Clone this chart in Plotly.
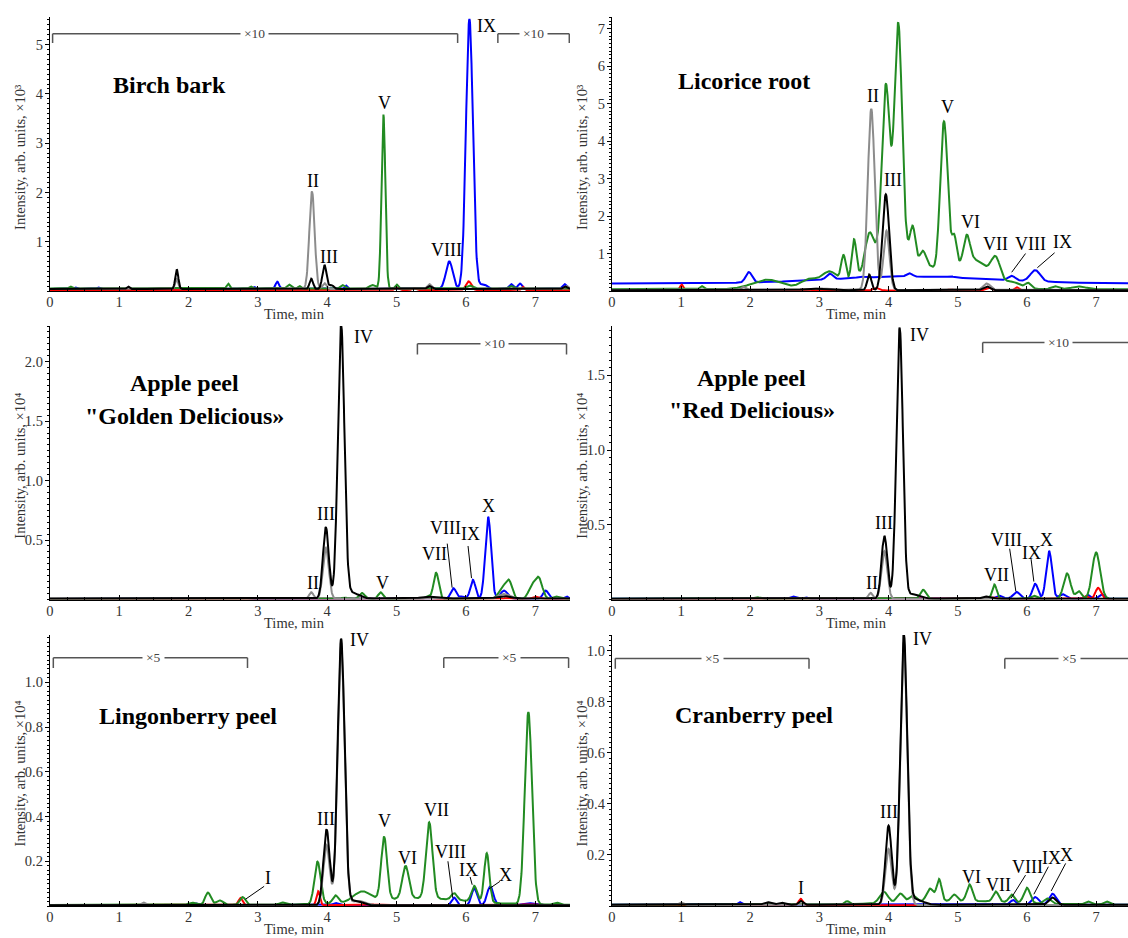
import numpy as np
import plotly.graph_objects as go

# ---------------- data: peak tables (retention time [min], height, sigma [min]) ----------------
# Birch bark (x10^3)
BIRCH_BASE = {"black": 0.04, "gray": 0.04, "green": 0.05, "blue": 0.04, "red": 0.015}
BIRCH_BLACK = [(1.13, 0.05, 0.02), (1.83, 0.40, 0.022), (3.77, 0.21, 0.025), (3.96, 0.49, 0.03),
               (4.06, 0.08, 0.03), (5.47, 0.06, 0.03), (7.43, 0.05, 0.03)]
BIRCH_GRAY = [(1.83, 0.2, 0.022), (3.78, 1.98, 0.038), (3.96, 0.12, 0.03), (5.47, 0.10, 0.03), (7.45, 0.06, 0.03)]
BIRCH_GREEN = [(0.3, 0.04, 0.02), (2.57, 0.10, 0.02), (2.9, 0.04, 0.02), (3.45, 0.08, 0.03), (3.6, 0.05, 0.02),
               (4.22, 0.07, 0.03), (4.65, 0.07, 0.04), (4.81, 3.53, 0.028), (5.0, 0.08, 0.02), (6.05, 0.06, 0.04),
               (6.65, 0.05, 0.03)]
BIRCH_BLUE = [(0.37, 0.03, 0.02), (0.7, 0.03, 0.02), (2.95, 0.04, 0.02), (3.28, 0.15, 0.025), (4.27, 0.07, 0.02),
              (5.76, 0.56, 0.05), (6.05, 5.48, 0.05), (6.25, 0.10, 0.05), (6.65, 0.10, 0.03), (6.78, 0.11, 0.03),
              (7.42, 0.10, 0.03)]
BIRCH_RED = [(5.0, 0.05, 0.03), (5.25, 0.04, 0.03), (6.04, 0.18, 0.04), (6.82, 0.07, 0.02)]

# Licorice root (x10^3)
LIC_BASE = {"black": 0.02, "gray": 0.03, "green": 0.05, "blue": 0.2, "red": 0.01}
LIC_BLACK = [(2.9, 0.04, 0.15), (3.72, 0.42, 0.03), (3.96, 2.56, 0.048), (5.42, 0.10, 0.05)]
LIC_GRAY = [(1.9, 0.08, 0.03), (3.0, 0.04, 0.1), (3.75, 4.83, 0.05), (3.97, 1.58, 0.042), (5.42, 0.17, 0.05)]
LIC_GREEN = [(1.3, 0.08, 0.025), (2.25, 0.25, 0.22), (2.85, 0.25, 0.12), (3.15, 0.45, 0.12), (3.35, 0.72, 0.035),
             (3.5, 1.1, 0.035), (3.72, 0.85, 0.06), (4.05, 1.2, 0.3), (3.96, 4.3, 0.055), (4.14, 5.95, 0.055),
             (4.35, 0.95, 0.04), (4.5, 0.6, 0.05), (4.62, 0.3, 0.05), (4.8, 4.2, 0.056), (4.95, 0.85, 0.035),
             (5.2, 0.8, 0.25), (5.13, 0.68, 0.045), (5.55, 0.57, 0.065), (5.8, 0.15, 0.1), (6.02, 0.15, 0.045),
             (6.4, 0.08, 0.05), (6.75, 0.07, 0.1)]
LIC_BLUE = [(4.3, 0.18, 1.2), (1.98, 0.28, 0.045), (3.15, 0.15, 0.045), (3.6, 0.03, 0.05), (4.3, 0.09, 0.045),
            (4.9, 0.03, 0.05), (5.78, 0.12, 0.05), (6.12, 0.30, 0.07)]
LIC_RED = [(1.01, 0.16, 0.025), (3.82, 0.07, 0.05), (4.9, 0.03, 0.05), (5.45, 0.08, 0.05), (5.85, 0.09, 0.03)]

# Apple peel "Golden Delicious" (x10^4)
GOLD_BASE = {"black": 0.008, "gray": 0.006, "green": 0.005, "blue": 0.005, "red": 0.003}
GOLD_BLACK = [(3.98, 0.60, 0.042), (4.2, 2.29, 0.047), (4.35, 0.05, 0.1), (5.45, 0.015, 0.1), (6.55, 0.02, 0.1)]
GOLD_GRAY = [(3.77, 0.055, 0.03), (3.98, 0.43, 0.042), (6.55, 0.04, 0.08)]
GOLD_GREEN = [(4.25, 0.01, 0.05), (4.5, 0.05, 0.04), (4.77, 0.055, 0.035), (5.45, 0.02, 0.04), (5.57, 0.22, 0.037),
              (6.52, 0.09, 0.05), (6.62, 0.15, 0.045), (6.95, 0.10, 0.05), (7.05, 0.17, 0.05), (7.3, 0.02, 0.05)]
GOLD_BLUE = [(2.8, 0.008, 0.05), (5.82, 0.09, 0.04), (5.95, 0.02, 0.04), (6.1, 0.16, 0.037), (6.32, 0.69, 0.042),
             (6.55, 0.07, 0.05), (7.15, 0.07, 0.04), (7.45, 0.02, 0.03)]
GOLD_RED = [(5.45, 0.01, 0.05), (6.6, 0.01, 0.05), (7.0, 0.02, 0.05)]

# Apple peel "Red Delicious" (x10^4)
RED_BASE = {"black": 0.005, "gray": 0.004, "green": 0.005, "blue": 0.005, "red": 0.003}
RED_BLACK = [(3.94, 0.42, 0.042), (4.16, 1.81, 0.047), (4.35, 0.03, 0.1), (5.4, 0.015, 0.05)]
RED_GRAY = [(3.74, 0.04, 0.03), (3.94, 0.32, 0.042)]
RED_GREEN = [(2.1, 0.01, 0.04), (4.5, 0.06, 0.04), (5.53, 0.095, 0.032), (6.1, 0.02, 0.04), (6.58, 0.17, 0.05),
             (6.75, 0.05, 0.04), (7.0, 0.31, 0.057)]
RED_BLUE = [(2.62, 0.015, 0.04), (2.8, 0.01, 0.03), (5.6, 0.02, 0.05), (5.85, 0.045, 0.05), (6.12, 0.10, 0.04),
            (6.32, 0.32, 0.042), (6.52, 0.03, 0.05), (6.88, 0.025, 0.03), (7.08, 0.03, 0.04)]
RED_RED = [(5.5, 0.01, 0.05), (6.85, 0.02, 0.03), (7.03, 0.075, 0.04)]

# Lingonberry peel (x10^4)
LING_BASE = {"black": 0.003, "gray": 0.003, "green": 0.005, "blue": 0.003, "red": 0.003}
LING_BLACK = [(3.99, 0.34, 0.045), (4.2, 1.19, 0.05), (4.4, 0.02, 0.1)]
LING_GRAY = [(1.35, 0.012, 0.03), (3.99, 0.27, 0.045), (4.2, 1.16, 0.05), (4.45, 0.02, 0.1)]
LING_GREEN = [(2.05, 0.01, 0.05), (2.28, 0.055, 0.04), (2.45, 0.02, 0.05), (2.78, 0.035, 0.04), (3.35, 0.01, 0.04),
              (3.86, 0.19, 0.045), (4.12, 0.035, 0.04), (4.5, 0.045, 0.12), (5.3, 0.03, 0.7), (4.82, 0.28, 0.042),
              (5.13, 0.145, 0.047), (5.47, 0.34, 0.047), (5.83, 0.03, 0.04), (6.12, 0.07, 0.04),
              (6.3, 0.22, 0.037), (6.9, 0.86, 0.052), (7.3, 0.01, 0.04)]
LING_BLUE = [(2.1, 0.008, 0.05), (4.12, 0.01, 0.04), (5.83, 0.035, 0.035), (6.12, 0.075, 0.04),
             (6.35, 0.085, 0.045), (6.9, 0.01, 0.08)]
LING_RED = [(2.75, 0.033, 0.03), (3.87, 0.063, 0.025), (4.5, 0.005, 0.2), (6.9, 0.005, 0.1)]

# Cranberry peel (x10^4)
CRAN_BASE = {"black": 0.005, "gray": 0.004, "green": 0.005, "blue": 0.005, "red": 0.003}
CRAN_BLACK = [(2.25, 0.01, 0.05), (2.45, 0.008, 0.05), (2.73, 0.015, 0.03), (4.0, 0.31, 0.045),
              (4.22, 1.06, 0.05), (4.4, 0.02, 0.1), (6.37, 0.028, 0.05)]
CRAN_GRAY = [(1.0, 0.01, 0.03), (4.0, 0.22, 0.045), (4.22, 1.03, 0.05)]
CRAN_GREEN = [(3.4, 0.012, 0.03), (3.93, 0.045, 0.06), (4.17, 0.035, 0.05), (4.35, 0.025, 0.05), (4.6, 0.05, 0.05),
              (4.73, 0.085, 0.035), (4.95, 0.025, 0.04), (5.0, 0.015, 0.8), (5.17, 0.065, 0.04), (5.55, 0.04, 0.04),
              (5.78, 0.03, 0.04), (6.0, 0.06, 0.045), (6.3, 0.02, 0.05), (6.88, 0.012, 0.04), (7.15, 0.012, 0.04)]
CRAN_BLUE = [(1.85, 0.01, 0.025), (5.8, 0.018, 0.04), (6.12, 0.03, 0.05), (6.37, 0.043, 0.05)]
CRAN_RED = [(2.73, 0.025, 0.03)]

# Peak labels (Roman numerals)
BIRCH_LABELS = ["II", "III", "V", "VIII", "IX"]
LIC_LABELS = ["II", "III", "V", "VI", "VII", "VIII", "IX"]
GOLD_LABELS = ["IV", "III", "II", "V", "VII", "VIII", "IX", "X"]
RED_LABELS = ["IV", "III", "II", "VII", "VIII", "IX", "X"]
LING_LABELS = ["IV", "III", "V", "VI", "VII", "VIII", "IX", "X", "I"]
CRAN_LABELS = ["IV", "III", "I", "VI", "VII", "VIII", "IX", "X"]

TIME = np.linspace(0, 7.5, 1501)
COLORS = {"red": "#ff0000", "blue": "#0000ff", "green": "#228b22", "gray": "#8c8c8c", "black": "#000000"}
SERIF = "Liberation Serif, Times New Roman, serif"
W, H = 1128, 938


def curve(base, peaks):
    y = np.full_like(TIME, base)
    for rt, h, s in peaks:
        y = y + h * np.exp(-0.5 * ((TIME - rt) / s) ** 2)
    return y


# ---------------- layout of panels ----------------
COLS = [(46, 568, 7.5), (610, 1128, (1128 - 610) / 69.43)]
ROWS = [(17, 291), (326, 599.5), (635, 906)]
TIME_LABEL_PX = [314, 623, 929]

panels = [
    dict(col=0, row=0, ymax=5.56, base=BIRCH_BASE,
         series=dict(black=BIRCH_BLACK, gray=BIRCH_GRAY, green=BIRCH_GREEN, blue=BIRCH_BLUE, red=BIRCH_RED),
         tickvals=[1, 2, 3, 4, 5], ticktext=["1", "2", "3", "4", "5"], minor=0.1, exp="³",
         title=[("Birch bark", 1.73, 4.19)],
         labels=BIRCH_LABELS, lpos=[(3.79, 2.23), (4.02, 0.68), (4.83, 3.82), (5.72, 0.84), (6.3, 5.37)],
         leaders=[],
         brackets=[(0.04, 5.88, 5.22, 5.03, 2.95, "×10"), (6.46, 7.49, 5.22, 5.03, 6.97, "×10")]),
    dict(col=1, row=0, ymax=7.31, base=LIC_BASE,
         series=dict(black=LIC_BLACK, gray=LIC_GRAY, green=LIC_GREEN, blue=LIC_BLUE, red=LIC_RED),
         tickvals=[1, 2, 3, 4, 5, 6, 7], ticktext=[str(i) for i in range(1, 8)], minor=0.1, exp="³",
         title=[("Licorice root", 1.91, 5.6)],
         labels=LIC_LABELS, lpos=[(3.77, 5.2), (4.07, 2.95), (4.85, 4.9), (5.18, 1.85), (5.55, 1.25),
                                  (6.05, 1.25), (6.52, 1.3)],
         leaders=[(5.98, 1.0, 5.78, 0.5), (6.4, 1.02, 6.15, 0.62)],
         brackets=[]),
    dict(col=0, row=1, ymax=2.30, base=GOLD_BASE,
         series=dict(black=GOLD_BLACK, gray=GOLD_GRAY, green=GOLD_GREEN, blue=GOLD_BLUE, red=GOLD_RED),
         tickvals=[0.5, 1.0, 1.5, 2.0], ticktext=["0.5", "1.0", "1.5", "2.0"], minor=0.05, exp="⁴",
         title=[("Apple peel", 1.94, 1.82), ('"Golden Delicious»', 1.94, 1.54)],
         labels=GOLD_LABELS, lpos=[(4.52, 2.21), (3.98, 0.72), (3.8, 0.14), (4.8, 0.14), (5.55, 0.38),
                                   (5.7, 0.6), (6.06, 0.55), (6.33, 0.79)],
         leaders=[(5.73, 0.47, 5.8, 0.1), (6.03, 0.45, 6.08, 0.18)],
         brackets=[(5.3, 7.45, 2.15, 2.06, 6.41, "×10")]),
    dict(col=1, row=1, ymax=1.83, base=RED_BASE,
         series=dict(black=RED_BLACK, gray=RED_GRAY, green=RED_GREEN, blue=RED_BLUE, red=RED_RED),
         tickvals=[0.5, 1.0, 1.5], ticktext=["0.5", "1.0", "1.5"], minor=0.05, exp="⁴",
         title=[("Apple peel", 2.02, 1.48), ('"Red Delicious»', 2.02, 1.27)],
         labels=RED_LABELS, lpos=[(4.44, 1.77), (3.93, 0.51), (3.76, 0.11), (5.56, 0.165), (5.71, 0.4),
                                  (6.06, 0.31), (6.28, 0.4)],
         leaders=[(5.75, 0.34, 5.84, 0.054), (6.06, 0.27, 6.1, 0.12)],
         brackets=[(5.36, 7.7, 1.72, 1.65, 6.45, "×10")]),
    dict(col=0, row=2, ymax=1.212, base=LING_BASE,
         series=dict(black=LING_BLACK, gray=LING_GRAY, green=LING_GREEN, blue=LING_BLUE, red=LING_RED),
         tickvals=[0.2, 0.4, 0.6, 0.8, 1.0], ticktext=["0.2", "0.4", "0.6", "0.8", "1.0"], minor=0.02, exp="⁴",
         title=[("Lingonberry peel", 1.99, 0.85)],
         labels=LING_LABELS, lpos=[(4.47, 1.19), (3.98, 0.39), (4.83, 0.38), (5.16, 0.215), (5.57, 0.43),
                                   (5.77, 0.24), (6.03, 0.16), (6.57, 0.14), (3.14, 0.125)],
         leaders=[(3.09, 0.088, 2.82, 0.03), (5.74, 0.2, 5.81, 0.036), (6.06, 0.13, 6.09, 0.095),
                  (6.49, 0.11, 6.33, 0.076)],
         brackets=[(0.05, 2.85, 1.11, 1.064, 1.49, "×5"), (5.68, 7.48, 1.11, 1.064, 6.63, "×5")]),
    dict(col=1, row=2, ymax=1.062, base=CRAN_BASE,
         series=dict(black=CRAN_BLACK, gray=CRAN_GRAY, green=CRAN_GREEN, blue=CRAN_BLUE, red=CRAN_RED),
         tickvals=[0.2, 0.4, 0.6, 0.8, 1.0], ticktext=["0.2", "0.4", "0.6", "0.8", "1.0"], minor=0.02, exp="⁴",
         title=[("Cranberry peel", 2.06, 0.75)],
         labels=CRAN_LABELS, lpos=[(4.49, 1.045), (4.0, 0.37), (2.74, 0.07), (5.2, 0.115), (5.59, 0.082),
                                   (6.01, 0.154), (6.36, 0.187), (6.57, 0.2)],
         leaders=[(5.98, 0.121, 5.77, 0.03), (6.31, 0.154, 6.1, 0.046), (6.56, 0.167, 6.35, 0.059)],
         brackets=[(0.05, 2.85, 0.97, 0.93, 1.46, "×5"), (5.68, 7.7, 0.97, 0.93, 6.61, "×5")]),
]

fig = go.Figure()
layout = dict(width=W, height=H, margin=dict(l=0, r=0, t=0, b=0), paper_bgcolor="white",
              plot_bgcolor="white", showlegend=False, font=dict(family=SERIF, color="#222"))
annotations = []
shapes = []

for i, p in enumerate(panels):
    n = i + 1
    xs = "x" if n == 1 else f"x{n}"
    ys = "y" if n == 1 else f"y{n}"
    xk = "xaxis" if n == 1 else f"xaxis{n}"
    yk = "yaxis" if n == 1 else f"yaxis{n}"
    c0, c1, xmax = COLS[p["col"]]
    r0, r1 = ROWS[p["row"]]
    layout[xk] = dict(domain=[c0 / W, c1 / W], range=[0, xmax], anchor=ys,
                      showline=True, linecolor="black", linewidth=1, showgrid=False, zeroline=False,
                      ticks="inside", ticklen=5, tickcolor="black", tickwidth=1,
                      tickvals=list(range(8)), ticktext=[str(k) for k in range(8)],
                      tickfont=dict(size=14.5, family=SERIF, color="#333"), ticklabelstandoff=-2,
                      minor=dict(ticks="inside", ticklen=3, tickcolor="black", dtick=0.25, tick0=0))
    layout[yk] = dict(domain=[1 - r1 / H, 1 - r0 / H], range=[0, p["ymax"]], anchor=xs,
                      showline=True, linecolor="black", linewidth=1, showgrid=False, zeroline=False,
                      ticks="outside", ticklen=4, tickcolor="black", tickwidth=1,
                      tickvals=p["tickvals"], ticktext=p["ticktext"],
                      tickfont=dict(size=14.5, family=SERIF, color="#333"), ticklabelstandoff=-1,
                      minor=dict(ticks="outside", ticklen=2, tickcolor="black", dtick=p["minor"], tick0=0))

    for key in ["blue", "red", "green", "gray", "black"]:
        fig.add_trace(go.Scatter(x=TIME, y=curve(p["base"][key], p["series"][key]), mode="lines",
                                 line=dict(color=COLORS[key], width=2), xaxis=xs, yaxis=ys,
                                 hoverinfo="skip"))

    for text, tx, ty in p["title"]:
        annotations.append(dict(x=tx, y=ty, xref=xs, yref=ys, text=f"<b>{text}</b>", showarrow=False,
                                font=dict(size=24, family=SERIF, color="black"),
                                xanchor="center", yanchor="middle"))
    for lab, (lx, ly) in zip(p["labels"], p["lpos"]):
        annotations.append(dict(x=lx, y=ly, xref=xs, yref=ys, text=lab, showarrow=False,
                                font=dict(size=18, family=SERIF, color="black"),
                                xanchor="center", yanchor="middle"))
    for (ax0, ay0, ax1, ay1) in p["leaders"]:
        shapes.append(dict(type="line", xref=xs, yref=ys, x0=ax0, y0=ay0, x1=ax1, y1=ay1,
                           line=dict(color="black", width=1)))
    for (bx0, bx1, by, bd, blx, btxt) in p["brackets"]:
        for (sx0, sy0, sx1, sy1) in [(bx0, bd, bx0, by), (bx0, by, bx1, by), (bx1, by, bx1, bd)]:
            shapes.append(dict(type="line", xref=xs, yref=ys, x0=sx0, y0=sy0, x1=sx1, y1=sy1,
                               line=dict(color="#555", width=1.5)))
        annotations.append(dict(x=blx, y=by, xref=xs, yref=ys, text=btxt, showarrow=False,
                                font=dict(size=13.5, family=SERIF, color="#444"), bgcolor="white",
                                borderpad=3, xanchor="center", yanchor="middle"))

    # axis titles
    annotations.append(dict(x=3.53, y=1 - TIME_LABEL_PX[p["row"]] / H, xref=xs, yref="paper", text="Time, min",
                            showarrow=False, font=dict(size=14.5, family=SERIF, color="#333"),
                            xanchor="center", yanchor="middle"))
    tx_px = 16 if p["col"] == 0 else 580
    annotations.append(dict(x=tx_px / W, y=1 - ((r0 + r1) / 2 + 3) / H, xref="paper", yref="paper",
                            text=f"Intensity, arb. units, ×10{p['exp']}", textangle=-90, showarrow=False,
                            font=dict(size=14.5, family=SERIF, color="#333"),
                            xanchor="center", yanchor="middle"))

layout["annotations"] = annotations
layout["shapes"] = shapes
fig.update_layout(**layout)
fig.write_html("out.html", config={"displayModeBar": False},
               post_script="document.body.style.margin='0';document.body.style.padding='0';"
                           "document.documentElement.style.margin='0';")
